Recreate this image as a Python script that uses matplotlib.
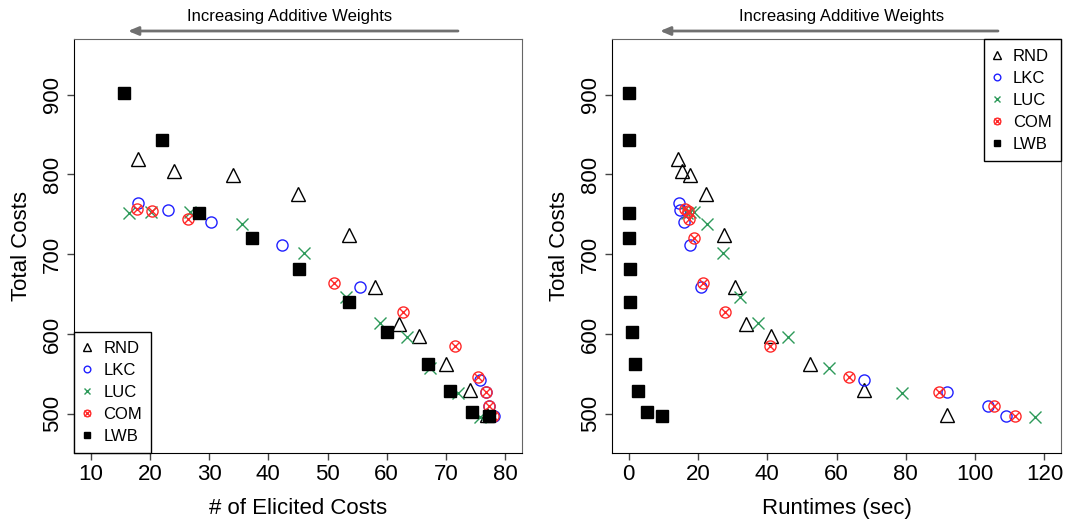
import matplotlib
matplotlib.use("Agg")
import matplotlib.pyplot as plt

plt.rcParams['font.family'] = ['Liberation Sans', 'DejaVu Sans']

# values (y = total costs)
rnd_n = [18.0, 24.0, 34.0, 45.1, 53.7, 58.0, 62.1, 65.5, 70.0, 74.1, 77.0]
rnd_y = [819, 804, 799, 776, 724, 659, 612, 597, 562, 530, 499]
rnd_rt = [14.2, 15.4, 17.8, 22.4, 27.4, 30.8, 33.9, 41.0, 52.2, 67.9, 91.8]

lkc_n = [18.0, 23.1, 30.3, 42.3, 55.5, 75.8, 76.8, 77.3, 78.1]
lkc_y = [764, 756, 741, 712, 659, 542, 527, 510, 497.5]
lkc_rt = [14.6, 14.9, 16.1, 17.6, 20.9, 67.8, 91.8, 103.8, 108.9]

luc_n = [16.5, 20.2, 26.7, 35.6, 46.0, 53.2, 58.9, 63.5, 67.3, 72.1, 75.8]
luc_y = [752, 752.5, 752.5, 738, 701, 647, 614, 596, 557.6, 526, 496]
luc_rt = [16.8, 17.8, 19.0, 22.6, 27.3, 32.1, 37.3, 46.0, 57.8, 78.9, 117.3]

com_n = [17.8, 20.3, 26.5, 37.2, 51.1, 62.7, 71.5, 75.4, 76.7, 77.3, 78.0]
com_y = [756.5, 754.5, 744, 720, 664.5, 627.7, 585, 545.5, 526.8, 510, 497.3]
com_rt = [16.4, 17.0, 17.5, 19.0, 21.6, 27.7, 40.9, 63.7, 89.7, 105.4, 111.5]

lwb_n = [15.7, 22.1, 28.3, 37.2, 45.2, 53.7, 60.0, 66.9, 70.6, 74.4, 77.2]
lwb_y = [902.5, 842.8, 752, 720, 682, 639.5, 602, 562, 529, 502, 497]
lwb_rt = [0.1, 0.2, 0.2, 0.2, 0.3, 0.5, 0.9, 1.7, 2.6, 5.2, 9.5]

GREEN = '#2E9A5A'
RED = '#FF2A2A'
BLUE = '#2020FF'

fig = plt.figure(figsize=(10.67, 5.21), dpi=100)
ax1 = fig.add_axes([0.0694, 0.1305, 0.4196, 0.7937])
ax2 = fig.add_axes([0.5736, 0.1305, 0.4208, 0.7937])


def draw(ax, xs, legend_loc):
    x_rnd, x_lkc, x_luc, x_com, x_lwb = xs
    h1, = ax.plot(x_rnd, rnd_y, ls='none', marker='^', ms=10, mfc='none', mec='black', mew=1)
    h2, = ax.plot(x_lkc, lkc_y, ls='none', marker='o', ms=8, mfc='none', mec=BLUE, mew=1)
    h3, = ax.plot(x_luc, luc_y, ls='none', marker='x', ms=8, mec=GREEN, mew=1)
    h4a, = ax.plot(x_com, com_y, ls='none', marker='o', ms=8, mfc='none', mec=RED, mew=1)
    h4b, = ax.plot(x_com, com_y, ls='none', marker='x', ms=6.3, mec=RED, mew=1)
    h5, = ax.plot(x_lwb, lwb_y, ls='none', marker='s', ms=8, mfc='black', mec='black')
    leg = ax.legend([h1, h2, h3, (h4a, h4b), h5], ['RND', 'LKC', 'LUC', 'COM', 'LWB'],
                    loc=legend_loc, borderaxespad=0, fancybox=False, framealpha=1,
                    edgecolor='black', fontsize=12, markerscale=0.6, handlelength=0.42,
                    handletextpad=0.78, labelspacing=0.42, borderpad=0.55)
    leg.get_frame().set_linewidth(1)
    ax.set_ylim(450.8, 969.2)
    ax.set_yticks([500, 600, 700, 800, 900])
    ax.set_ylabel('Total Costs', fontsize=16, labelpad=7)
    ax.tick_params(labelsize=16, length=5, width=1, direction='out', pad=3, color='#444444')
    for lab in ax.get_yticklabels():
        lab.set_rotation(90)
        lab.set_va('center')
    for s in ['left', 'bottom']:
        ax.spines[s].set_color('black')
    for s in ['top', 'right']:
        ax.spines[s].set_color('#666666')


draw(ax1, [rnd_n, lkc_n, luc_n, com_n, lwb_n], 'lower left')
ax1.set_xlim(7.2, 82.8)
ax1.set_xticks(range(10, 81, 10))
ax1.set_xlabel('# of Elicited Costs', fontsize=16, labelpad=9)

draw(ax2, [rnd_rt, lkc_rt, luc_rt, com_rt, lwb_rt], 'upper right')
ax2.set_xlim(-4.8, 124.8)
ax2.set_xticks(range(0, 121, 20))
ax2.set_xlabel('Runtimes (sec)', fontsize=16, labelpad=9)

# arrows above each panel
for x0, x1, xt in [(458, 128, 290), (998, 660, 842)]:
    fig.text(xt / 1067, 1 - 16 / 521, 'Increasing Additive Weights', fontsize=12,
             ha='center', va='center')
    ax1.annotate('', xy=(x1, 490), xytext=(x0, 490), xycoords='figure pixels',
                 textcoords='figure pixels', annotation_clip=False,
                 arrowprops=dict(arrowstyle='-|>,head_length=0.6,head_width=0.25',
                                 color='#707070', lw=2, shrinkA=0, shrinkB=0))

fig.savefig('out.png', dpi=100)
